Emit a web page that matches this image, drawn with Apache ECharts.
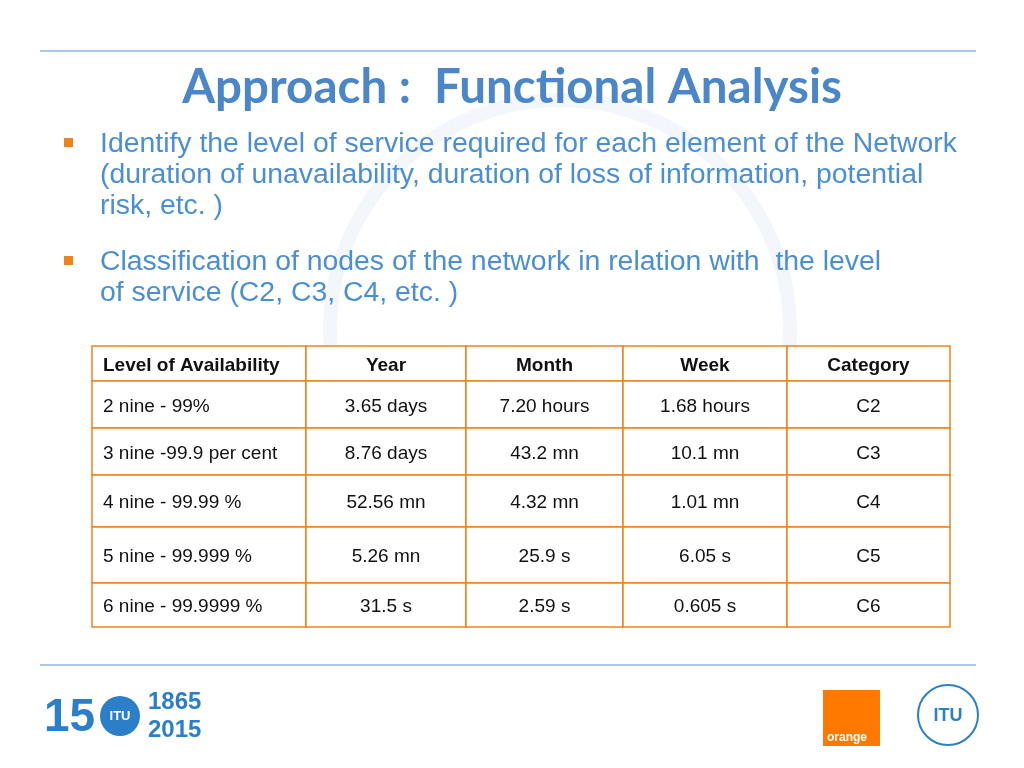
<!DOCTYPE html>
<html><head><meta charset="utf-8">
<script src="https://cdn.jsdelivr.net/npm/echarts@6/dist/echarts.min.js"></script>
<style>html,body{margin:0;padding:0;background:#fff}#c{width:1024px;height:768px}</style>
</head><body><div id="c"></div>
<script>
const title = "Approach :  Functional Analysis";
const bullets = [
  ["Identify the level of service required for each element of the Network", "(duration of unavailability, duration of loss of information, potential", "risk, etc. )"],
  ["Classification of nodes of the network in relation with  the level", "of service (C2, C3, C4, etc. )"]
];
const headers = ["Level of Availability", "Year", "Month", "Week", "Category"];
const levels = ["2 nine - 99%", "3 nine -99.9 per cent", "4 nine - 99.99 %", "5 nine - 99.999 %", "6 nine - 99.9999 %"];
const yearVals = ["3.65 days", "8.76 days", "52.56 mn", "5.26 mn", "31.5 s"];
const monthVals = ["7.20 hours", "43.2 mn", "4.32 mn", "25.9 s", "2.59 s"];
const weekVals = ["1.68 hours", "10.1 mn", "1.01 mn", "6.05 s", "0.605 s"];
const categories = ["C2", "C3", "C4", "C5", "C6"];

const colX = [92, 306, 466, 623, 787, 950];
const rowY = [346, 381, 428, 475, 527, 583, 627];
const orange = "#f0821e", blue = "#4a8fd4";
const g = [];
g.push({type:'line', shape:{x1:40,y1:51,x2:976,y2:51}, style:{stroke:'#8fb8dc',lineWidth:1.5}});
g.push({type:'line', shape:{x1:40,y1:665,x2:976,y2:665}, style:{stroke:'#8fb8dc',lineWidth:1.5}});
g.push({type:'circle', shape:{cx:560,cy:330,r:230}, style:{fill:'none',stroke:'#f3f6fa',lineWidth:14}});
g.push({type:'text', style:{x:512,y:88,text:title,font:'bold 47.5px Lato, "Open Sans", sans-serif',fill:'#4a86c8',align:'center',verticalAlign:'middle'}});
let by = [144, 262];
bullets.forEach((b, i) => {
  g.push({type:'rect', shape:{x:64,y:by[i]-6,width:9,height:9}, style:{fill:orange}});
  b.forEach((line, j) => g.push({type:'text', style:{x:100,y:by[i]+j*31,text:line,font:'28.4px "Liberation Sans", Arial, sans-serif',fill:blue,verticalAlign:'middle'}}));
});
const cols = [levels, yearVals, monthVals, weekVals, categories];
for (let r = 0; r < rowY.length - 1; r++) {
  for (let c = 0; c < 5; c++) {
    g.push({type:'rect', shape:{x:colX[c],y:rowY[r],width:colX[c+1]-colX[c],height:rowY[r+1]-rowY[r]}, style:{fill:'#fff',stroke:orange,lineWidth:1.5}});
    const txt = r === 0 ? headers[c] : cols[c][r-1];
    const left = c === 0;
    g.push({type:'text', style:{x:left?colX[0]+11:(colX[c]+colX[c+1])/2, y:(rowY[r]+rowY[r+1])/2+2, text:txt,
      font:(r===0?'bold ':'')+'19px "Liberation Sans", Arial, sans-serif', fill:'#111', align:left?'left':'center', verticalAlign:'middle'}});
  }
}
g.push({type:'text', style:{x:44,y:718,text:'15',font:'bold 46px "Liberation Sans", Arial',fill:'#2a7fc8',verticalAlign:'middle'}});
g.push({type:'circle', shape:{cx:120,cy:716,r:20}, style:{fill:'#2a7fc8'}});
g.push({type:'text', style:{x:120,y:716,text:'ITU',font:'bold 13px Arial',fill:'#fff',align:'center',verticalAlign:'middle'}});
g.push({type:'text', style:{x:148,y:702,text:'1865',font:'bold 24px "Liberation Sans Narrow", Arial',fill:'#2a7fc8',verticalAlign:'middle'}});
g.push({type:'text', style:{x:148,y:730,text:'2015',font:'bold 24px "Liberation Sans Narrow", Arial',fill:'#2a7fc8',verticalAlign:'middle'}});
g.push({type:'rect', shape:{x:823,y:690,width:57,height:56}, style:{fill:'#ff7900'}});
g.push({type:'text', style:{x:827,y:738,text:'orange',font:'bold 12px Arial',fill:'#fff',verticalAlign:'middle'}});
g.push({type:'circle', shape:{cx:948,cy:715,r:30}, style:{fill:'#fff',stroke:'#2a7fc8',lineWidth:2}});
g.push({type:'text', style:{x:948,y:716,text:'ITU',font:'bold 18px Arial',fill:'#2a7fc8',align:'center',verticalAlign:'middle'}});
const chart = echarts.init(document.getElementById('c'));
chart.setOption({animation:false, graphic:g});
</script></body></html>
